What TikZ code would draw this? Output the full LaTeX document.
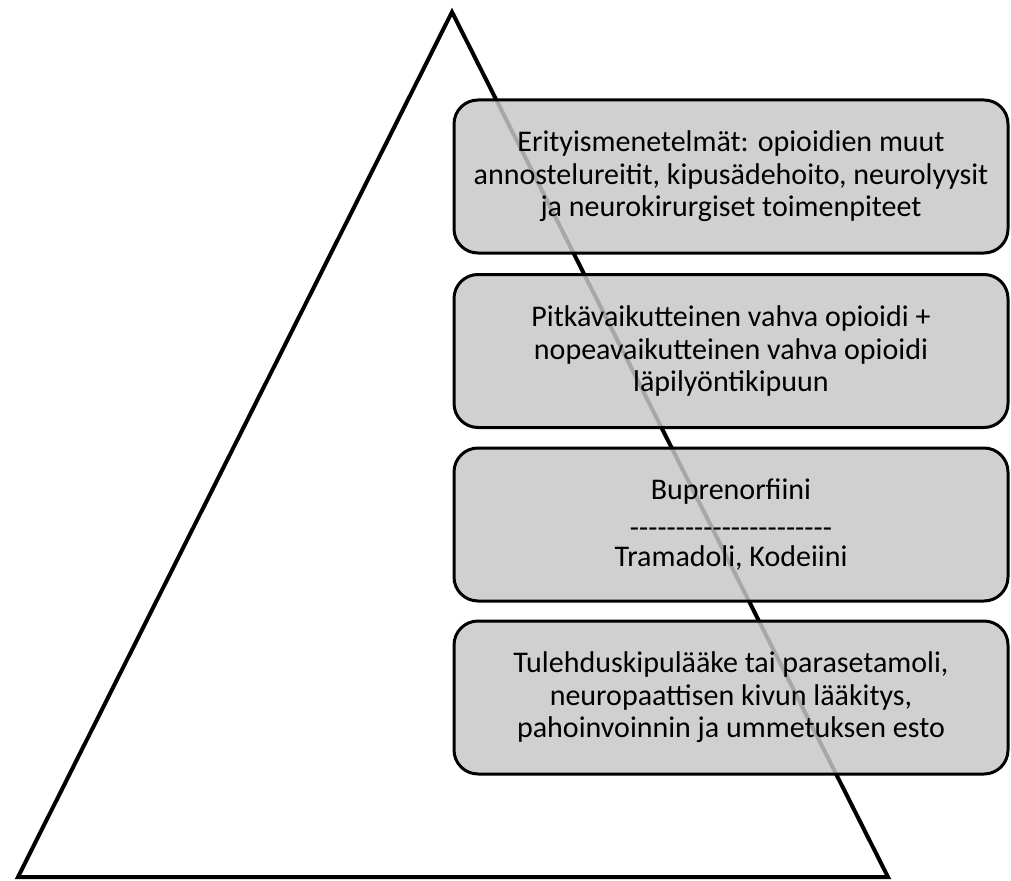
\documentclass[tikz,border=0pt]{standalone}
\usepackage{fontspec}
\setmainfont{Carlito}
\newcommand\hy{\mbox{-}}
\newcommand\dashrow{\hy\hy\hy\hy\hy\hy\hy\hy\hy\hy\hy\hy\hy\hy\hy\hy\hy\hy\hy\hy\hy\hy}
\begin{document}
\begin{tikzpicture}[x=1pt,y=-1pt,
  stepbox/.style={draw=black, line width=3pt, rounded corners=24pt,
    fill=black!22, fill opacity=0.84, text opacity=1,
    minimum width=554pt, minimum height=153pt, align=center,
    font=\fontsize{30}{32.5}\selectfont, inner sep=0pt},
  tri/.style={draw=black, line width=4pt, line join=miter}]
\useasboundingbox (0,0) rectangle (1011,880);
\coordinate (apex) at (452,12);
\coordinate (bl) at (18,877);
\coordinate (br) at (888,877);
\draw[tri] (apex) -- (bl) -- (br) -- cycle;
\node[stepbox] (b1) at (731,176.5) {Erityismenetelmät: opioidien muut\\annostelureitit, kipusädehoito, neurolyysit\\ja neurokirurgiset toimenpiteet};
\node[stepbox] (b2) at (731,351) {Pitkävaikutteinen vahva opioidi +\\nopeavaikutteinen vahva opioidi\\läpilyöntikipuun};
\node[stepbox] (b3) at (731,524.5) {Buprenorfiini\\[5.5pt]\dashrow\\[-3.5pt]Tramadoli, Kodeiini};
\node[stepbox] (b4) at (731,697.5) {Tulehduskipulääke tai parasetamoli,\\neuropaattisen kivun lääkitys,\\pahoinvoinnin ja ummetuksen esto};
\end{tikzpicture}
\end{document}
